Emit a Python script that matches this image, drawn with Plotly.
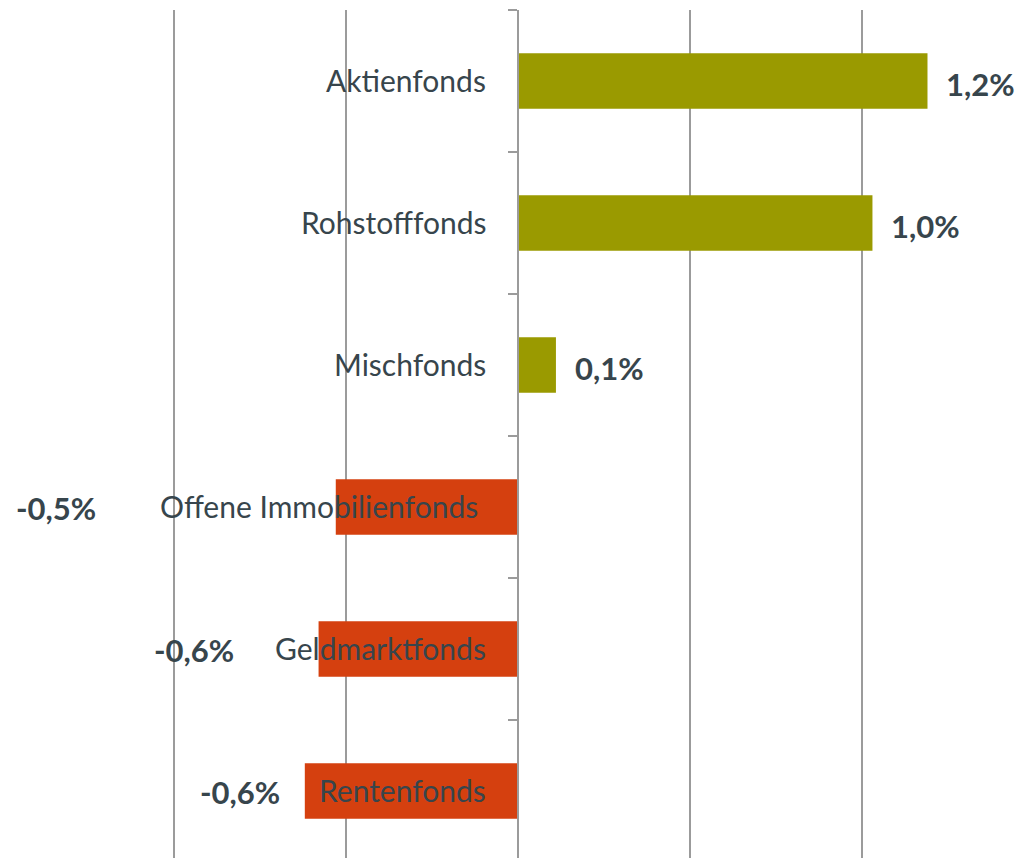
import plotly.graph_objects as go

categories = ["Aktienfonds", "Rohstofffonds", "Mischfonds",
              "Offene Immobilienfonds ", "Geldmarktfonds", "Rentenfonds"]
values = [1.19, 1.03, 0.11, -0.53, -0.58, -0.62]
value_labels = ["1,2%", "1,0%", "0,1%", "-0,5%", "-0,6%", "-0,6%"]
x_ticks = [-1.0, -0.5, 0.0, 0.5, 1.0]

POS = "#9a9a00"
NEG = "#d5400f"
TEXT = "#37454c"
GRID = "#9b9b9b"
FONT = "Lato"

W, H = 1019, 858
x_min, x_max = -1.506, 1.456
zero_pos = (0 - x_min) / (x_max - x_min)

colors = [POS if v >= 0 else NEG for v in values]

fig = go.Figure(go.Bar(
    x=values, y=categories, orientation="h",
    marker=dict(color=colors, line=dict(width=0)),
    width=0.39, hoverinfo="skip",
))

annotations = []
CHAR_W = 15.3
for cat, v, lab in zip(categories, values, value_labels):
    annotations.append(dict(
        x=0, y=cat, xref="x", yref="y", text=cat.replace(" ", "\u00a0"),
        showarrow=False, xanchor="right", yanchor="middle", xshift=-30, yshift=1,
        font=dict(family=FONT, size=30, color=TEXT),
    ))
    if v >= 0:
        annotations.append(dict(
            x=v, y=cat, xref="x", yref="y", text=f"<b>{lab}</b>", showarrow=False,
            xanchor="left", yanchor="middle", xshift=17, yshift=-3,
            font=dict(family=FONT, size=31, color=TEXT),
        ))
    else:
        shift = 31 + CHAR_W * len(cat) + 37
        annotations.append(dict(
            x=0, y=cat, xref="x", yref="y", text=f"<b>{lab}</b>", showarrow=False,
            xanchor="right", yanchor="middle", xshift=-shift, yshift=-1,
            font=dict(family=FONT, size=31, color=TEXT),
        ))

fig.update_layout(
    width=W, height=H,
    margin=dict(l=0, r=0, t=10, b=0),
    paper_bgcolor="white", plot_bgcolor="white",
    showlegend=False,
    bargap=0.61,
    annotations=annotations,
    xaxis=dict(
        range=[x_min, x_max], tickvals=x_ticks, showticklabels=False,
        showgrid=True, gridcolor=GRID, gridwidth=2, zeroline=False,
        showline=False, ticks="", fixedrange=True,
    ),
    yaxis=dict(
        categoryorder="array", categoryarray=categories,
        range=[len(categories) - 0.5 - 0.028, -0.5],
        showticklabels=False, showgrid=False, zeroline=False,
        showline=True, linecolor=GRID, linewidth=2,
        anchor="free", position=zero_pos,
        ticks="outside", tickson="boundaries", ticklen=9,
        tickcolor=GRID, tickwidth=2, fixedrange=True,
    ),
)

fig.write_html(
    "out.html",
    config={"displayModeBar": False},
    post_script="document.body.style.margin='0';document.body.style.overflow='hidden';",
)
